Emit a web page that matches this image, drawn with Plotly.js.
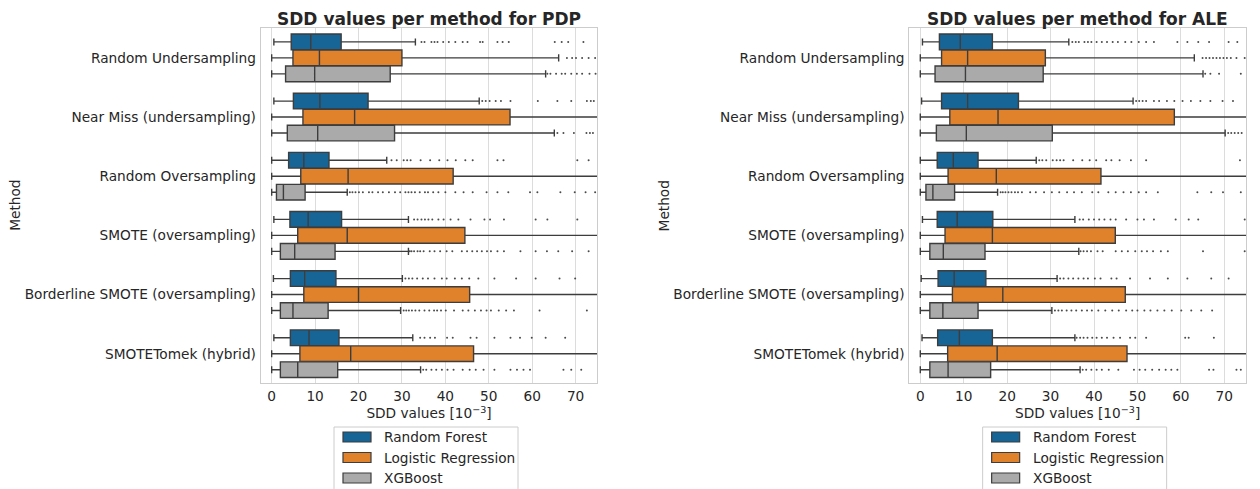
<!DOCTYPE html>
<html>
<head>
<meta charset="utf-8">
<script src="https://cdn.plot.ly/plotly-3.0.1.min.js"></script>
<style>html,body{margin:0;padding:0;background:#fff;}#chart{width:1260px;height:489px;}</style>
</head>
<body>
<div id="chart"></div>
<script>
const methods = ['Random Undersampling','Near Miss (undersampling)','Random Oversampling','SMOTE (oversampling)','Borderline SMOTE (oversampling)','SMOTETomek (hybrid)'];
const models = ['Random Forest','Logistic Regression','XGBoost'];
const modelColors = ['#176596','#e0812c','#aaaaaa'];
const panelTitles = ['SDD values per method for PDP','SDD values per method for ALE'];
const xTickVals = [0,10,20,30,40,50,60,70];

// PDP statistics: [RF, LR, XGB] x methods
const pdpLow = [[0.5,0.5,0,0.5,0.4,0.5],[0,0,0,0,0,0],[0,0,0,0,0,0]];
const pdpQ1  = [[4.5,5.0,3.9,4.2,4.3,4.3],[4.9,7.2,6.7,6.0,7.4,6.5],[3.2,3.6,1.1,2.0,2.0,2.0]];
const pdpMed = [[9.0,11.1,7.4,8.4,7.6,8.6],[11.0,19.1,17.6,17.4,20.0,18.2],[9.9,10.6,2.7,5.3,4.9,6.0]];
const pdpQ3  = [[16.0,22.2,13.2,16.1,14.8,15.5],[30.0,54.9,41.8,44.5,45.6,46.5],[27.3,28.3,7.7,14.6,13.0,15.2]];
const pdpHigh= [[33.1,47.8,26.5,31.5,30.1,32.5],[66.1,95,85,88,90,92],[63.1,65.1,17.4,31.5,29.7,34.3]];

const pdpOutRF = [
  [34.5,35.2,36.8,37.5,38.2,39.5,40.8,42.3,44.0,45.1,48.0,48.6,52.0,53.2,54.6,65.2,66.8,68.3,71.8],
  [48.5,49.3,50.2,51.6,52.8,55.0,61.3,65.8,69.0,72.6,73.5,74.2],
  [27.6,28.8,30.4,31.2,32.0,34.3,36.5,38.6,40.5,42.4,44.6,46.3,52.0,53.4,70.4,73.0],
  [32.8,33.6,34.5,35.3,36.1,37.0,38.4,39.6,41.2,43.0,45.8,49.0,50.3,53.5,60.8,63.5,70.4],
  [30.8,31.6,32.4,33.5,34.8,36.0,37.5,39.2,40.3,42.2,43.8,45.5,47.6,51.3,56.3,60.8,66.3,69.9],
  [34.2,35.2,36.5,37.6,40.4,41.7,45.8,47.2,51.3,55.0,57.2,59.9,63.1,67.6]
];
const pdpOutLR = [[68.0,69.2,70.1,71.5,73.0,74.5],[],[],[],[],[]];
const pdpOutXGB = [
  [63.5,64.2,65.5,66.8,67.6,69.0,70.3,71.5,73.2,74.6],
  [65.8,67.2,69.6,72.5,73.3,74.0],
  [18.0,18.6,19.3,20.1,21.0,22.4,23.2,24.5,25.6,27.0,28.4,29.6,30.8,31.5,32.2,33.0,34.1,35.3,36.0,37.2,38.4,40.0,42.3,44.2,46.3,49.5,52.0,54.5,59.5,61.2,66.5,69.8,72.3,74.5],
  [31.8,32.2,32.8,33.6,34.2,35.0,36.4,37.5,38.8,40.3,41.6,43.8,45.0,46.2,47.3,48.4,49.6,50.5,52.0,53.5,57.3,60.8,63.4,66.0,69.2,73.0],
  [30.4,31.0,31.6,32.3,33.1,34.0,35.2,36.3,37.4,38.1,39.0,40.1,42.0,44.0,45.3,46.8,48.2,49.5,50.5,52.3,54.0,55.8,61.7,72.6],
  [34.9,35.6,36.8,37.9,39.2,40.5,41.9,44.0,45.6,47.0,48.8,51.3,55.0,56.5,58.0,59.5,67.2,69.0,71.3]
];

// ALE statistics
const aleLow = [[0.5,0.3,0,0.5,0.2,0.4],[0,0,0,0,0,0],[0,0,0,0,0,0]];
const aleQ1  = [[4.4,4.9,3.9,3.9,4.1,4.0],[4.9,6.8,6.4,5.7,7.4,6.3],[3.4,3.7,1.3,2.2,2.2,2.2]];
const aleMed = [[9.2,10.9,7.6,8.5,7.8,9.0],[10.9,17.9,17.5,16.6,19.0,17.7],[10.4,10.6,2.9,5.3,5.2,6.4]];
const aleQ3  = [[16.6,22.6,13.3,16.7,15.1,16.6],[28.8,58.5,41.6,44.9,47.2,47.6],[28.3,30.4,7.9,14.9,13.3,16.2]];
const aleHigh= [[34.2,49.0,26.7,35.6,31.5,35.6],[63.1,98,85,88,92,94],[65.1,70.2,17.8,36.5,30.3,36.8]];

const aleOutRF = [
  [35.0,35.8,36.5,37.8,38.6,39.4,40.6,41.8,43.0,44.3,45.5,47.2,48.6,50.3,52.0,53.8,59.2,61.5,64.0,66.5,71.0,73.0],
  [49.7,50.4,51.2,52.0,53.8,55.0,56.8,58.5,60.4,62.3,64.5,66.8,69.6,72.0],
  [27.4,28.1,29.0,30.5,31.4,32.2,33.0,35.2,37.3,39.0,40.5,42.8,44.0,45.9,48.5,52.0,73.6],
  [36.7,37.5,38.8,40.0,41.2,42.4,43.8,45.0,47.4,50.0,51.5,53.8,58.8,61.8,64.0,74.7],
  [32.2,33.0,34.1,35.2,36.4,37.6,38.6,40.2,41.5,44.0,45.2,48.3,52.9,57.0,61.5,67.0,71.0],
  [36.0,36.8,37.6,38.5,39.6,40.6,41.8,43.0,44.5,46.0,48.3,49.5,52.0,61.0,61.8,67.6]
];
const aleOutLR = [[65.0,65.8,66.6,67.4,68.2,69.0,69.8,70.6,71.5,72.8,74.7],[],[],[],[],[]];
const aleOutXGB = [
  [65.6,66.8,68.8,73.8],
  [70.9,71.6,72.4,73.2,74.0],
  [18.5,19.0,19.6,20.3,21.0,21.8,22.5,23.4,25.3,26.6,28.5,30.3,32.0,33.8,35.4,37.2,39.6,41.0,43.3,45.0,46.8,48.5,50.3,52.0,54.7,63.8,67.0,69.7,73.8],
  [36.9,37.6,38.4,39.3,40.8,42.0,45.0,46.4,47.8,49.5,51.0,52.2,53.6,55.4,57.0,65.1,74.7],
  [31.0,31.8,32.6,33.7,34.8,35.9,37.2,38.4,39.5,41.0,42.6,44.2,45.7,47.4,48.8,50.0,51.6,53.0,54.6,56.2,57.9,60.1,62.4,64.7,67.2],
  [37.4,38.2,39.4,40.6,41.8,43.4,45.6,49.2,50.5,51.8,53.4,55.0,56.5,57.8,59.2,66.5,67.5,72.8,73.8]
];

const W = 1260, H = 489;
const px = v => v / W, py = v => 1 - v / H;
const offsets = [-0.27, 0, 0.27];
const edge = '#3d3d3d';
const txt = '#262626';
const fam = 'DejaVu Sans, sans-serif';
const font = {family: fam, size: 13.7, color: txt};
const traces = [];

function addPanel(low, q1, med, q3, high, outs, xa, ya) {
  for (let k = 0; k < 3; k++) {
    const pos = methods.map((_, i) => i + offsets[k]);
    traces.push({
      type: 'box', orientation: 'h', name: models[k],
      y: pos, q1: q1[k], median: med[k], q3: q3[k],
      lowerfence: low[k], upperfence: high[k],
      width: 0.265, fillcolor: modelColors[k],
      line: {color: edge, width: 1.4}, whiskerwidth: 0.45,
      boxpoints: false, xaxis: xa, yaxis: ya, showlegend: false,
      hoverinfo: 'skip'
    });
    const ox = [], oy = [];
    outs[k].forEach((arr, i) => arr.forEach(v => { ox.push(v); oy.push(i + offsets[k]); }));
    traces.push({
      type: 'scatter', mode: 'markers', x: ox, y: oy, showlegend: false,
      marker: {symbol: 'circle', size: 2, color: '#4a4a4a'},
      xaxis: xa, yaxis: ya, hoverinfo: 'skip'
    });
  }
}
addPanel(pdpLow, pdpQ1, pdpMed, pdpQ3, pdpHigh, [pdpOutRF, pdpOutLR, pdpOutXGB], 'x', 'y');
addPanel(aleLow, aleQ1, aleMed, aleQ3, aleHigh, [aleOutRF, aleOutLR, aleOutXGB], 'x2', 'y2');

const panelsPx = [[260.7, 597.3], [909.3, 1246]];
const plotTop = 28.3, plotBottom = 383.3;

const xax = (dom, anchor) => ({
  domain: [px(dom[0]), px(dom[1])], anchor: anchor, range: [-2.53, 75],
  tickvals: xTickVals, ticks: '',
  showgrid: true, gridcolor: '#dcdcdc', gridwidth: 1, zeroline: false,
  showline: true, linecolor: '#cccccc', linewidth: 1, mirror: true,
  tickfont: font, title: {text: 'SDD values [10<sup>−3</sup>]', font: font, standoff: 4}
});
const yax = (anchor) => ({
  domain: [py(plotBottom), py(plotTop)], anchor: anchor, range: [5.5, -0.5],
  tickvals: methods.map((_, i) => i), ticktext: methods, ticks: '', ticklabelstandoff: 1,
  showgrid: false, zeroline: false,
  showline: true, linecolor: '#cccccc', linewidth: 1, mirror: true,
  tickfont: font
});

const shapes = [], annotations = [];
panelsPx.forEach((p, j) => {
  const cx = (p[0] + p[1]) / 2;
  annotations.push({text: '<b>' + panelTitles[j] + '</b>', x: px(cx), y: py(18.5), xref: 'paper', yref: 'paper',
    xanchor: 'center', yanchor: 'middle', showarrow: false, font: {family: fam, size: 17, color: txt}});
  // y-axis title
  annotations.push({text: 'Method', x: px(p[0] - 245.7), y: py((plotTop + plotBottom) / 2), xref: 'paper', yref: 'paper',
    xanchor: 'center', yanchor: 'middle', textangle: -90, showarrow: false, font: font});
  // legend (manual, matplotlib-style)
  const lw = 184, lx = cx - 3 - lw / 2, ly = 427;
  shapes.push({type: 'rect', xref: 'paper', yref: 'paper', x0: px(lx), x1: px(lx + lw), y0: py(ly), y1: py(ly + 80),
    line: {color: '#cccccc', width: 1}, fillcolor: 'rgba(255,255,255,0.8)', layer: 'above'});
  models.forEach((m, k) => {
    const cy = 437 + k * 20.5;
    shapes.push({type: 'rect', xref: 'paper', yref: 'paper', x0: px(lx + 9), x1: px(lx + 37), y0: py(cy - 5), y1: py(cy + 5),
      line: {color: edge, width: 1.2}, fillcolor: modelColors[k], layer: 'above'});
    annotations.push({text: m, x: px(lx + 48), y: py(cy), xref: 'paper', yref: 'paper', xanchor: 'left', yanchor: 'middle',
      showarrow: false, font: font});
  });
});

const layout = {
  width: W, height: H, paper_bgcolor: '#ffffff', plot_bgcolor: '#ffffff',
  margin: {l: 0, r: 0, t: 0, b: 0, autoexpand: false}, showlegend: false,
  font: font,
  xaxis: xax(panelsPx[0], 'y'),
  yaxis: yax('x'),
  xaxis2: xax(panelsPx[1], 'y2'),
  yaxis2: yax('x2'),
  shapes: shapes,
  annotations: annotations
};
Plotly.newPlot('chart', traces, layout, {staticPlot: true, displayModeBar: false});
</script>
</body>
</html>
